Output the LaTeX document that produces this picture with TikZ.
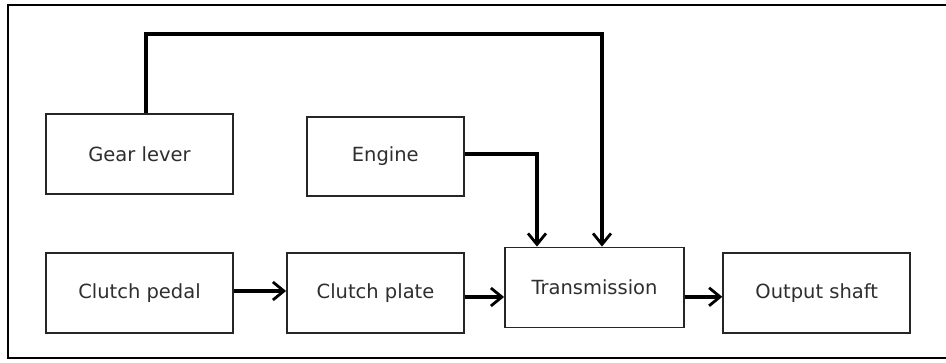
\documentclass[tikz,border=0pt]{standalone}
\usepackage{fontspec}
\setmainfont{DejaVu Sans}
\usetikzlibrary{arrows.meta}
\definecolor{txt}{HTML}{2E2E2E}
\tikzset{
  blk/.style={draw=black!85, line width=1.8pt, minimum width=#1, minimum height=80pt,
    inner sep=0pt, text=txt, font=\fontsize{19.5}{22}\selectfont},
  blk/.default=187pt,
  arr/.style={line width=3.5pt, -{Straight Barb[length=11pt,width=18pt,line width=2.8pt]}},
  frame/.style={line width=1.8pt, draw=black}
}
\begin{document}
\begin{tikzpicture}[x=1pt,y=-1pt]
\useasboundingbox (0,0) rectangle (946,362);
\draw[frame] (946,5) -- (8,5) -- (8,358) -- (946,358);
\node[blk=187pt] (gear) at (139.5,154) {Gear lever};
\node[blk=157pt, minimum height=79pt] (engine) at (385.3,156.2) {Engine};
\node[blk=187pt] (pedal) at (139.5,293) {Clutch pedal};
\node[blk=177pt] (plate) at (375.5,293) {Clutch plate};
\node[blk=179pt] (trans) at (594.5,287.5) {Transmission};
\node[blk=187pt] (out) at (816.7,293.3) {Output shaft};
\coordinate (topy) at (0,34);
\draw[arr] ([xshift=6.5pt]gear.north) -- ([xshift=6.5pt]gear.north |- topy) -| ([xshift=7.5pt]trans.north);
\draw[arr] ([yshift=2pt]engine.east) -| ([xshift=-57.5pt]trans.north);
\draw[arr] ([yshift=2pt]pedal.east) -- ([yshift=2pt]pedal.east -| plate.west);
\draw[arr] ([yshift=-4pt]plate.east) -- ([yshift=-4pt]plate.east -| trans.west);
\draw[arr] ([yshift=-3.5pt]out.west -| trans.east) -- ([yshift=-3.5pt]out.west);
\end{tikzpicture}
\end{document}
